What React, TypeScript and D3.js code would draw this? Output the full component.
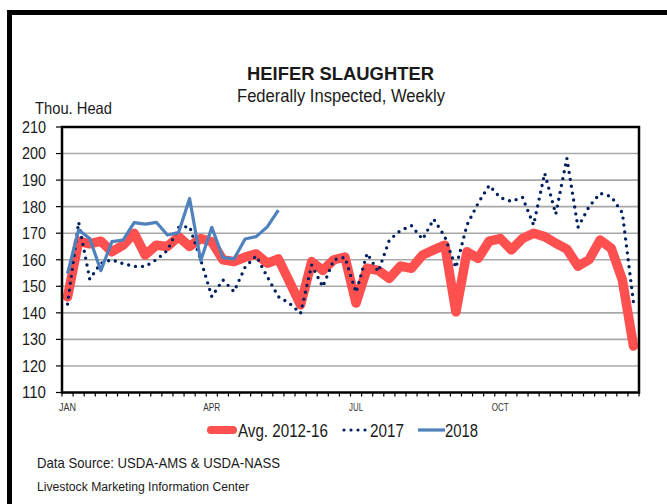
import React from "react";
import * as d3 from "d3";

// weekly heifer slaughter, thousand head
const weeks = d3.range(52);
const avg1216 = [
  146, 167, 166, 167, 163, 165.5, 170, 161.8, 165.5, 165, 168.7, 165, 168,
  166.8, 160, 159.3, 161, 162.2, 158.7, 160.3, 151.7, 143, 159.3, 156, 160, 161,
  143.7, 156.8, 156, 153, 157.6, 156.8, 161.8, 163.7, 165.5, 140.4, 163, 160.5,
  167, 168, 163.7, 168, 170, 168.7, 166.2, 164, 157.6, 160, 167.4, 164.3, 152.4,
  127.5,
];
const y2017 = [
  143.3, 174.1, 152.7, 158.7, 160, 158.5, 157.5, 157.5, 160, 163.5, 172.2,
  172.5, 160, 146.1, 152.4, 148, 157.2, 161.4, 153.6, 146.1, 143.6, 139.8, 158,
  149.8, 160, 160.9, 147.7, 162.4, 155.5, 167.4, 171, 172.8, 167.7, 175.3,
  168.7, 157, 173.1, 181.3, 188, 183.4, 182, 183.5, 173.1, 192.6, 177.2, 198.2,
  172.2, 180, 185, 183.8, 177.7, 144,
];
const y2018 = [
  154.9, 171.2, 168, 155.9, 166.8, 167.4, 174, 173.4, 174.1, 169.3, 170.2,
  183.1, 159.6, 172.2, 160.8, 160.3, 167.8, 168.7, 172.4, 178.7,
];
const yTicks = [110, 120, 130, 140, 150, 160, 170, 180, 190, 200, 210];
const monthLabels = [
  { week: 0, label: "JAN" },
  { week: 13, label: "APR" },
  { week: 26, label: "JUL" },
  { week: 39, label: "OCT" },
];

const font = "'Liberation Sans', Arial, sans-serif";

// squeeze text to a narrow face width
const Txt = ({ w, children, ...rest }: any) => (
  <text textLength={w} lengthAdjust="spacingAndGlyphs" {...rest}>
    {children}
  </text>
);

export default function App() {
  const left = 62;
  const right = 639;
  const top = 127;
  const bottom = 392.5;

  const x = d3.scaleBand<number>().domain(weeks).range([left, right]);
  const y = d3.scaleLinear().domain([110, 210]).range([bottom, top]);
  const cx = (i: number) => (x(i) as number) + x.bandwidth() / 2;

  const line = d3
    .line<number>()
    .x((_, i) => cx(i))
    .y((d) => y(d));

  return (
    <svg
      width={667}
      height={504}
      style={{ position: "absolute", left: 0, top: 0, background: "#fff" }}
      fontFamily={font}
      fill="#1a1a1a"
    >
      {/* outer frame */}
      <rect x={7} y={10} width={5} height={494} fill="#000" />
      <rect x={7} y={10} width={660} height={5} fill="#000" />

      <Txt w={187} x={247} y={80} fontSize={18} fontWeight="bold">
        HEIFER SLAUGHTER
      </Txt>
      <Txt w={208} x={237} y={102} fontSize={17.5}>
        Federally Inspected, Weekly
      </Txt>
      <Txt w={77} x={35} y={114} fontSize={16.5}>
        Thou. Head
      </Txt>

      {/* gridlines */}
      {yTicks.slice(1, -1).map((t) => (
        <line key={t} x1={left} x2={right} y1={y(t)} y2={y(t)} stroke="#a8a8a8" strokeWidth={1.6} />
      ))}

      {/* y axis ticks + labels */}
      {yTicks.map((t) => (
        <g key={t}>
          <line x1={56} x2={left} y1={y(t)} y2={y(t)} stroke="#000" strokeWidth={1.2} />
          <Txt w={24} x={22} y={y(t)} dy="0.36em" fontSize={16.5}>
            {t}
          </Txt>
        </g>
      ))}

      {/* x axis minor ticks */}
      {d3.range(53).map((i) => {
        const xx = left + i * x.bandwidth();
        return <line key={i} x1={xx} x2={xx} y1={bottom} y2={bottom + 4} stroke="#000" strokeWidth={1.2} />;
      })}
      {monthLabels.map((m) => (
        <Txt key={m.label} w={m.label === "JUL" ? 14 : 17} x={cx(m.week) - (m.label === "JUL" ? 7 : 8.5)} y={411} fontSize={10.5} fill="#333">
          {m.label}
        </Txt>
      ))}

      {/* series */}
      <path
        d={line(avg1216) ?? ""}
        fill="none"
        stroke="#ff5050"
        strokeWidth={9.5}
        strokeLinejoin="round"
        strokeLinecap="round"
      />
      <path
        d={line(y2017) ?? ""}
        fill="none"
        stroke="#002060"
        strokeWidth={3.4}
        strokeDasharray="0 7"
        strokeLinecap="round"
      />
      <path
        d={line(y2018) ?? ""}
        fill="none"
        stroke="#4f81bd"
        strokeWidth={3.2}
        strokeLinejoin="round"
      />

      {/* plot border */}
      <rect x={left} y={top} width={right - left} height={bottom - top} fill="none" stroke="#000" strokeWidth={2.5} />

      {/* legend */}
      <line x1={211} x2={233} y1={430} y2={430} stroke="#ff5050" strokeWidth={8} strokeLinecap="round" />
      <Txt w={90} x={238} y={437} fontSize={17.5}>
        Avg. 2012-16
      </Txt>
      <line x1={344} x2={370} y1={430} y2={430} stroke="#002060" strokeWidth={3.2} strokeDasharray="0 7" strokeLinecap="round" />
      <Txt w={34} x={370} y={437} fontSize={17.5}>
        2017
      </Txt>
      <line x1={418} x2={445} y1={430} y2={430} stroke="#4f81bd" strokeWidth={3.2} />
      <Txt w={33} x={445} y={437} fontSize={17.5}>
        2018
      </Txt>

      <Txt w={243} x={37} y={468} fontSize={14.5}>
        Data Source:  USDA-AMS &amp; USDA-NASS
      </Txt>
      <Txt w={212} x={37} y={491} fontSize={12.5}>
        Livestock Marketing Information Center
      </Txt>
    </svg>
  );
}
